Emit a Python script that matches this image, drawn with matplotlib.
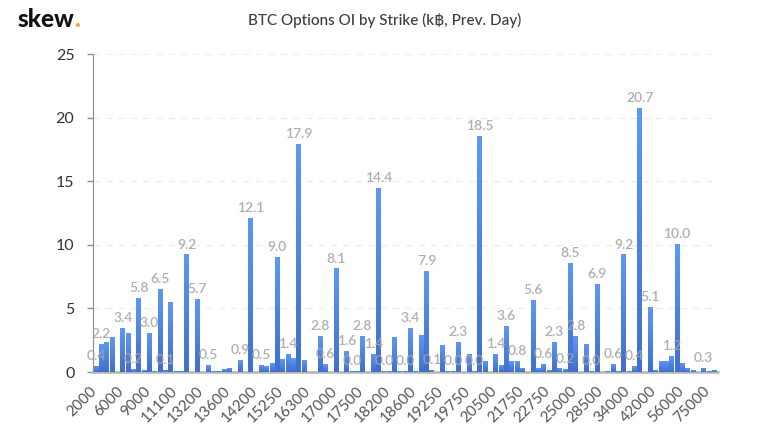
import matplotlib
matplotlib.use('Agg')
import matplotlib.pyplot as plt
from matplotlib.colors import LinearSegmentedColormap
from matplotlib.transforms import ScaledTranslation
import numpy as np

plt.rcParams['font.family'] = ['Lato', 'DejaVu Sans']

strikes = ['2000', '6000', '9000', '11100', '13200', '13600', '14200', '15250',
           '16300', '17000', '17500', '18200', '18600', '19250', '19750', '20500',
           '21750', '22750', '25000', '28500', '34000', '42000', '56000', '75000']

# one value per strike bar
oi = [0.4, 2.2, 2.3, 2.7, 0, 3.4, 3.0, 0.2, 5.8, 0.1,
      3.0, 0.05, 6.5, 0.1, 5.5, 0.04, 0.04, 9.2, 0, 5.7,
      0, 0.5, 0.02, 0.02, 0.2, 0.25, 0, 0.9, 0, 12.1,
      0, 0.5, 0.4, 0.65, 9.0, 1.0, 1.4, 1.1, 17.9, 0.9,
      0, 0, 2.8, 0.6, 0, 8.1, 0, 1.6, 0.02, 0.02,
      2.8, 0, 1.4, 14.4, 0.02, 0.02, 2.7, 0.02, 0.02, 3.4,
      0.02, 2.9, 7.9, 0.1, 0, 2.1, 0.02, 0.02, 2.3, 0,
      1.4, 0.02, 18.5, 0.8, 0, 1.4, 0.5, 3.6, 0.8, 0.85,
      0.3, 0, 5.6, 0.3, 0.6, 0.15, 2.3, 0.3, 0.2, 8.5,
      2.8, 0, 2.2, 0.02, 6.9, 0, 0.05, 0.6, 0.02, 9.2,
      0.02, 0.4, 20.7, 0, 5.1, 0.1, 0.8, 0.8, 1.2, 10.0,
      0.7, 0.25, 0.1, 0, 0.3, 0.03, 0.1]

# bars that carry a value label
labelled = [0, 1, 5, 7, 8, 10, 12, 13, 17, 19, 21, 27, 29, 31, 34, 36, 38, 42, 43, 45,
            47, 48, 50, 52, 53, 54, 58, 59, 62, 63, 67, 68, 71, 72, 75, 77, 79, 82, 84,
            86, 88, 89, 90, 93, 94, 97, 99, 101, 102, 104, 108, 109, 114]

yticks = [0, 5, 10, 15, 20, 25]

fig = plt.figure(figsize=(7.75, 4.33), dpi=100)
ax = fig.add_axes([92.5/775, 1-372/433, (718-92.5)/775, (372-54)/433])

x = np.arange(len(oi))
bars = ax.bar(x, oi, width=0.88, color='none', zorder=3)

# each bar fades from light at the top to darker at the base
fade = LinearSegmentedColormap.from_list('fade', ['#5f97f6', '#3f70cb'])
grad = np.linspace(0, 1, 64).reshape(-1, 1)
for b in bars:
    if b.get_height() > 0:
        ax.imshow(grad, cmap=fade, aspect='auto', zorder=3, interpolation='bilinear',
                  extent=(b.get_x(), b.get_x()+b.get_width(), 0, b.get_height()))

for i in labelled:
    ax.text(i, oi[i]+0.35, f'{oi[i]:.1f}', ha='center', va='bottom', fontsize=10,
            color='#a6a6a6', fontweight='semibold', alpha=0.9, zorder=4)

ax.set_xlim(-0.66, 116.7)
ax.set_ylim(0, 25)
ax.set_yticks(yticks)
ax.tick_params(axis='y', labelsize=11.5, labelcolor='#333333', length=4, width=1, color='#8c8c8c', pad=9)
ax.set_xticks(x[::5])
ax.set_xticklabels(strikes, rotation=45, ha='right', va='center', rotation_mode='anchor',
                   fontsize=11, color='#555555')
ax.tick_params(axis='x', length=0, pad=12)
shift = ScaledTranslation(-1/100, 0, fig.dpi_scale_trans)
for t in ax.get_xticklabels():
    t.set_transform(t.get_transform()+shift)
ax.grid(axis='y', linestyle=(0, (5, 5)), color='#ececec', linewidth=0.9, zorder=0)
ax.set_axisbelow(True)

for s in ['top', 'right']:
    ax.spines[s].set_visible(False)
ax.spines['left'].set_color('#8c8c8c')
ax.spines['bottom'].set_color('#b5b5b5')
ax.spines['bottom'].set_linewidth(1.8)

fig.text(385/775, 1-20/433, 'BTC Options OI by Strike (k\u0e3f, Prev. Day)', ha='center', va='center',
         fontsize=11, color='#3c3c3c', fontweight='medium')
fig.text(18/775, 1-27/433, 'skew', ha='left', va='baseline', fontsize=17.5,
         color='#111111', fontweight='black')
fig.text(74.5/775, 1-27/433, '.', ha='left', va='baseline', fontsize=17.5,
         color='#f5a623', fontweight='black')

fig.savefig('out.png', dpi=100)
